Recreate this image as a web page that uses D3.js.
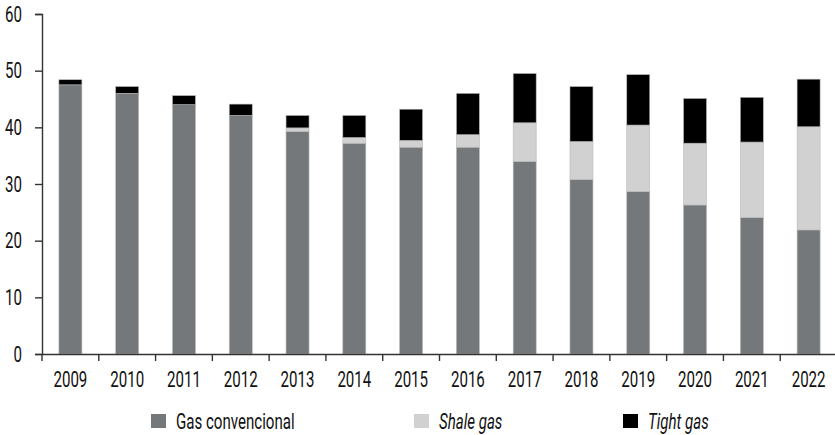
<!DOCTYPE html>
<html>
<head>
<meta charset="utf-8">
<script src="https://cdn.jsdelivr.net/npm/d3@7"></script>
<style>
  html, body { margin: 0; padding: 0; background: #fff; }
  svg { display: block; }
  text { font-family: Roboto, "Liberation Sans", sans-serif; fill: #111; }
</style>
</head>
<body>
<svg id="chart" width="835" height="435"></svg>
<script>
const years = ["2009","2010","2011","2012","2013","2014","2015","2016","2017","2018","2019","2020","2021","2022"];
const gasConvencional = [47.5, 46.0, 44.0, 42.1, 39.3, 37.2, 36.5, 36.5, 34.0, 30.8, 28.7, 26.3, 24.1, 21.9];
const shaleGas        = [0, 0, 0, 0, 0.6, 1.0, 1.2, 2.2, 6.8, 6.7, 11.7, 10.9, 13.3, 18.2];
const tightGas        = [0.9, 1.2, 1.6, 2.0, 2.2, 3.9, 5.5, 7.3, 8.7, 9.7, 8.9, 7.9, 7.9, 8.4];
const yTicks = [0, 10, 20, 30, 40, 50, 60];
const seriesNames = ["Gas convencional", "Shale gas", "Tight gas"];
const seriesColors = ["#75787b", "#d0d1d0", "#000000"];
const seriesItalic = [false, true, true];

const FONT = 22.5, SX = 0.67;
const svg = d3.select("#chart");
const margin = {left: 42, right: -2, top: 14, bottom: 81};
const W = 835, H = 435;

const x = d3.scaleBand().domain(years).range([margin.left, W - margin.right]).paddingInner(0.595).paddingOuter(0.2975);
const y = d3.scaleLinear().domain([0, 60]).range([H - margin.bottom, margin.top]);

const table = years.map((yr, i) => ({year: yr, g: gasConvencional[i], s: shaleGas[i], t: tightGas[i]}));
const layers = d3.stack().keys(["g", "s", "t"])(table);

svg.append("g").selectAll("g").data(layers).join("g")
  .attr("fill", (d, i) => seriesColors[i])
  .selectAll("rect").data(d => d).join("rect")
  .attr("x", d => x(d.data.year))
  .attr("width", x.bandwidth())
  .attr("y", d => y(d[1]))
  .attr("height", d => Math.max(0, y(d[0]) - y(d[1])))
  .attr("stroke", "#b8b9b9")
  .attr("stroke-width", 0.6);

// Y axis
const yAxis = svg.append("g").attr("transform", `translate(${margin.left},0)`)
  .call(d3.axisLeft(y).tickValues(yTicks).tickSize(7).tickPadding(13).tickFormat(d3.format("d")));
yAxis.select(".domain").attr("stroke", "#333").attr("stroke-width", 1.4);
yAxis.selectAll(".tick line").attr("stroke", "#333").attr("stroke-width", 1.4);
yAxis.selectAll(".tick text").attr("font-size", FONT).attr("fill", "#111")
  .attr("font-family", "Roboto, sans-serif")
  .attr("x", -20 / SX)
  .attr("transform", `scale(${SX},1)`);

// X axis
const xAxis = svg.append("g").attr("transform", `translate(0,${y(0)})`)
  .call(d3.axisBottom(x).tickSize(0).tickPadding(17));
xAxis.select(".domain").attr("stroke", "#333").attr("stroke-width", 1.4);
xAxis.selectAll(".tick text").attr("font-size", FONT).attr("fill", "#111")
  .attr("font-family", "Roboto, sans-serif")
  .attr("transform", `scale(${SX},1)`);
const step = x.step();
const boundaries = years.map(yr => x(yr) + x.bandwidth() / 2 - step / 2);
xAxis.selectAll("line.bound").data(boundaries).join("line")
  .attr("class", "bound")
  .attr("x1", d => d).attr("x2", d => d)
  .attr("y1", 0).attr("y2", 7)
  .attr("stroke", "#333").attr("stroke-width", 1.4);

// Legend
const legendX = [151, 414, 623];
const legend = svg.append("g").selectAll("g").data(seriesNames).join("g")
  .attr("transform", (d, i) => `translate(${legendX[i]},414)`);
legend.append("rect").attr("width", 15).attr("height", 14).attr("fill", (d, i) => seriesColors[i]);
legend.append("text").attr("x", 25 / SX).attr("y", 14.5)
  .attr("font-size", FONT)
  .attr("font-style", (d, i) => seriesItalic[i] ? "italic" : "normal")
  .attr("transform", `scale(${SX},1)`)
  .text(d => d);
</script>
</body>
</html>
